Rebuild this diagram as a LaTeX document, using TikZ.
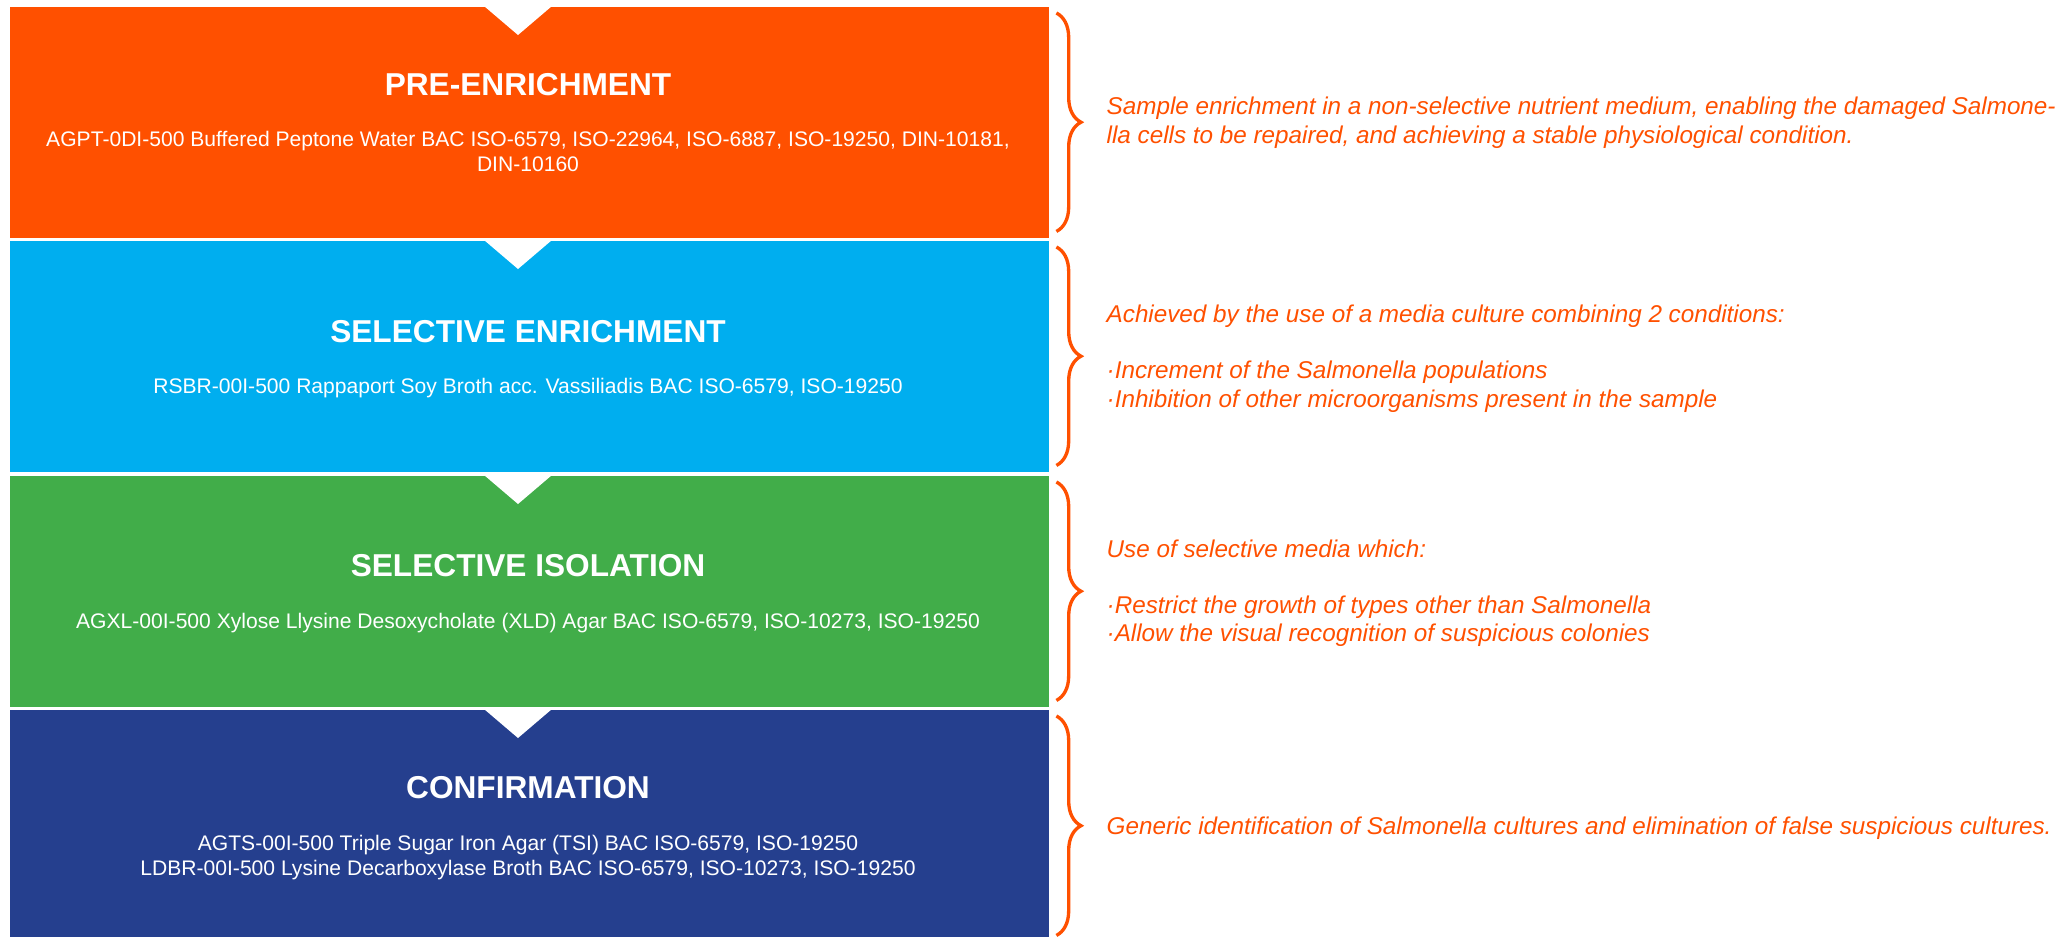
\documentclass[tikz,border=0pt]{standalone}
\usepackage{fontspec}
\setmainfont{Liberation Sans}
\usetikzlibrary{decorations.pathreplacing}

\definecolor{preorange}{RGB}{255,80,0}
\definecolor{enrblue}{RGB}{0,174,239}
\definecolor{isogreen}{RGB}{65,173,73}
\definecolor{confnavy}{RGB}{37,63,142}

\tikzset{
  stepbox/.style={rectangle, fill=#1, inner sep=0pt, minimum width=103.9mm, minimum height=23.1mm, anchor=north west},
  steptitle/.style={text=white, font=\fontsize{9}{11}\selectfont\bfseries, inner sep=0pt, anchor=base},
  stepsub/.style={text=white, font=\fontsize{6}{7.1}\selectfont, align=center, inner sep=0pt, anchor=base},
  note/.style={text=preorange, font=\fontsize{6.9}{8}\selectfont\itshape, align=left, inner sep=0pt, anchor=base west},
  curly/.style={draw=preorange, line width=0.95pt, decorate, decoration={brace, amplitude=7pt}},
}

\begin{document}
\begin{tikzpicture}[x=0.1mm, y=-0.1mm]
  \useasboundingbox (0,0) rectangle (2067,936);

  % the four steps
  \node[stepbox=preorange] (pre) at (9,6) {};
  \node[stepbox=enrblue] (enr) at (9,240) {};
  \node[stepbox=isogreen] (iso) at (9,475) {};
  \node[stepbox=confnavy, minimum height=23.2mm] (conf) at (9,709) {};

  % notches at the top of each step
  \foreach \b in {pre,enr,iso,conf}
    \fill[white] (\b.north west) ++(475,0) -- ++(68,0) -- ++(-34,29) -- cycle;

  % titles and media (base = last line)
  \node[steptitle] (pretitle) at (528,95.7) {PRE-ENRICHMENT};
  \node[stepsub] (presub) at (528,171.7) {AGPT-0DI-500 Buffered Peptone Water BAC ISO-6579, ISO-22964, ISO-6887, ISO-19250, DIN-10181,\\DIN-10160};

  \node[steptitle] (enrtitle) at (528,342.7) {SELECTIVE ENRICHMENT};
  \node[stepsub] (enrsub) at (528,393.5) {RSBR-00I-500 Rappaport Soy Broth acc. Vassiliadis BAC ISO-6579, ISO-19250};

  \node[steptitle] (isotitle) at (528,576.7) {SELECTIVE ISOLATION};
  \node[stepsub] (isosub) at (528,628) {AGXL-00I-500 Xylose Llysine Desoxycholate (XLD) Agar BAC ISO-6579, ISO-10273, ISO-19250};

  \node[steptitle] (conftitle) at (528,798.3) {CONFIRMATION};
  \node[stepsub] (confsub) at (528,875) {AGTS-00I-500 Triple Sugar Iron Agar (TSI) BAC ISO-6579, ISO-19250\\LDBR-00I-500 Lysine Decarboxylase Broth BAC ISO-6579, ISO-10273, ISO-19250};

  % braces
  \foreach \b in {pre,enr,iso,conf}
    \draw[curly] ([xshift=0.7mm,yshift=-0.7mm]\b.north east) -- ([xshift=0.7mm,yshift=0.7mm]\b.south east);

  % notes
  \node[note] (prenote) at (1106,143) {Sample enrichment in a non-selective nutrient medium, enabling the damaged Salmone-\\lla cells to be repaired, and achieving a stable physiological condition.};
  \node[note] (enrnote) at (1106,407) {Achieved by the use of a media culture combining 2 conditions:\\[8pt]·Increment of the Salmonella populations\\·Inhibition of other microorganisms present in the sample};
  \node[note] (isonote) at (1106,641.7) {Use of selective media which:\\[8pt]·Restrict the growth of types other than Salmonella\\·Allow the visual recognition of suspicious colonies};
  \node[note] (confnote) at (1106,834) {Generic identification of Salmonella cultures and elimination of false suspicious cultures.};
\end{tikzpicture}
\end{document}
